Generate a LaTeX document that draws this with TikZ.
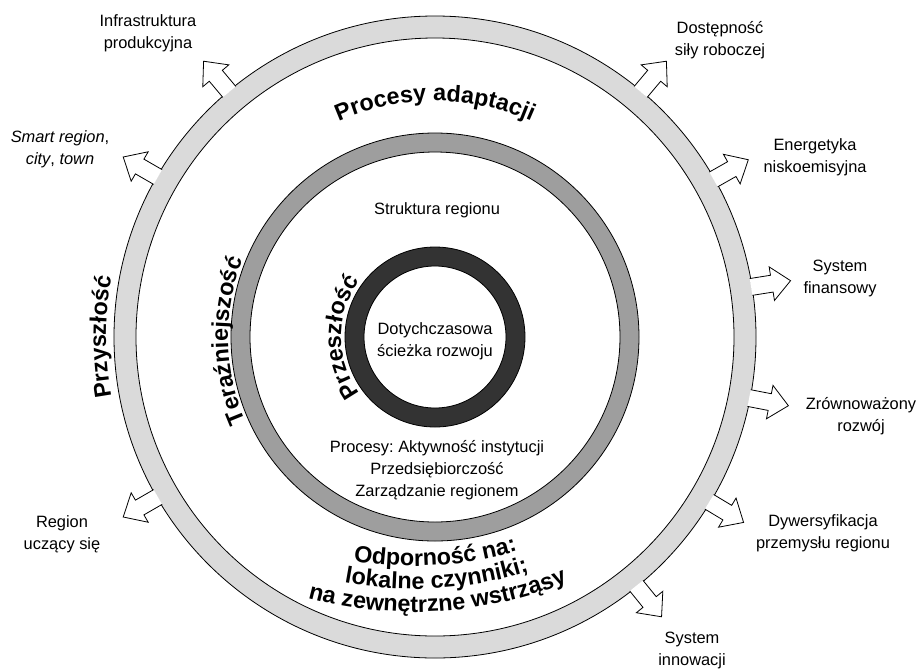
\documentclass[tikz,border=0pt]{standalone}
\usepackage{fontspec}
\setmainfont{Liberation Sans}
\usepackage{xcolor}
\usetikzlibrary{decorations.text}
\frenchspacing
\definecolor{ringout}{HTML}{DADADA}
\definecolor{ringmid}{HTML}{9E9E9E}
\definecolor{ringin}{HTML}{333333}
\newcommand{\lblfont}{\fontsize{12.3}{16.5}\selectfont}
\newcommand{\bigfont}{\fontsize{17.5}{21}\selectfont\bfseries}
\tikzstyle{lbl}=[align=center, inner sep=0, font=\lblfont]
\tikzstyle{ring}=[draw=black, line width=0.6pt, even odd rule]
\tikzstyle{blockarr}=[draw=black, fill=white, line width=0.6pt, line join=miter]
\tikzset{curved/.style={decorate, decoration={text along path, text align=center,
	text={|\bigfont|#1}}}}

\begin{document}
\begin{tikzpicture}[x=0.75pt, y=0.75pt]
	\useasboundingbox (-435,-332) rectangle (484,337);
	% rings: future, present, past
	\path[ring, fill=ringout] (0,0) circle (321) (0,0) circle (299);
	\path[ring, fill=ringmid] (0,0) circle (204) (0,0) circle (185);
	\path[ring, fill=ringin] (0,0) circle (90) (0,0) circle (71);
	% outgoing arrows
	\foreach \a in {130,150,210,50,29.5,9,-11,-31,-51}
		\draw[blockarr, rotate=\a] (320,-8.5) -- (341,-8.5) -- (341,-17) -- (360,0)
			-- (341,17) -- (341,8.5) -- (320,8.5);
	% curved titles
	\path[curved={Procesy adaptacji}] (125:236) arc[start angle=125, end angle=55, radius=236];
	\path[curved={Przyszłość}] (215:329) arc[start angle=215, end angle=145, radius=329];
	\path[curved={Teraźniejszość}] (216:207) arc[start angle=216, end angle=146, radius=207];
	\path[curved={Przeszłość}] (245:94) arc[start angle=245, end angle=115, radius=94];
	\path[curved={Odporność na:}] ([shift={(-21,132)}]-120:361) arc[start angle=-120, end angle=-53, radius=361];
	\path[curved={lokalne czynniki;}] ([shift={(-21,132)}]-120:384) arc[start angle=-120, end angle=-53, radius=384];
	\path[curved={na zewnętrzne wstrząsy}] ([shift={(-21,132)}]-120:407) arc[start angle=-120, end angle=-53, radius=407];
	% inner texts
	\node[lbl] (str) at (2,127) {Struktura regionu};
	\node[lbl] (dot) at (0,-4) {Dotychczasowa\\ścieżka rozwoju};
	\node[lbl] (proc) at (2,-133) {Procesy: Aktywność instytucji\\Przedsiębiorczość\\Zarządzanie regionem};
	% outer labels
	\node[lbl] (infra) at (-287,304) {Infrastruktura\\produkcyjna};
	\node[lbl] (smart) at (-375,188) {\textit{Smart region}, \\\textit{city}, \textit{town}};
	\node[lbl] (ucz) at (-373,-197) {Region\\uczący się};
	\node[lbl] (dost) at (285,297) {Dostępność\\siły roboczej};
	\node[lbl] (energ) at (380,180) {Energetyka\\niskoemisyjna};
	\node[lbl] (fin) at (405,59) {System\\finansowy};
	\node[lbl] (zrow) at (426,-79) {Zrównoważony\\rozwój};
	\node[lbl] (dyw) at (388,-196) {Dywersyfikacja\\przemysłu regionu};
	\node[lbl] (inn) at (257,-313) {System\\innowacji};
\end{tikzpicture}
\end{document}
